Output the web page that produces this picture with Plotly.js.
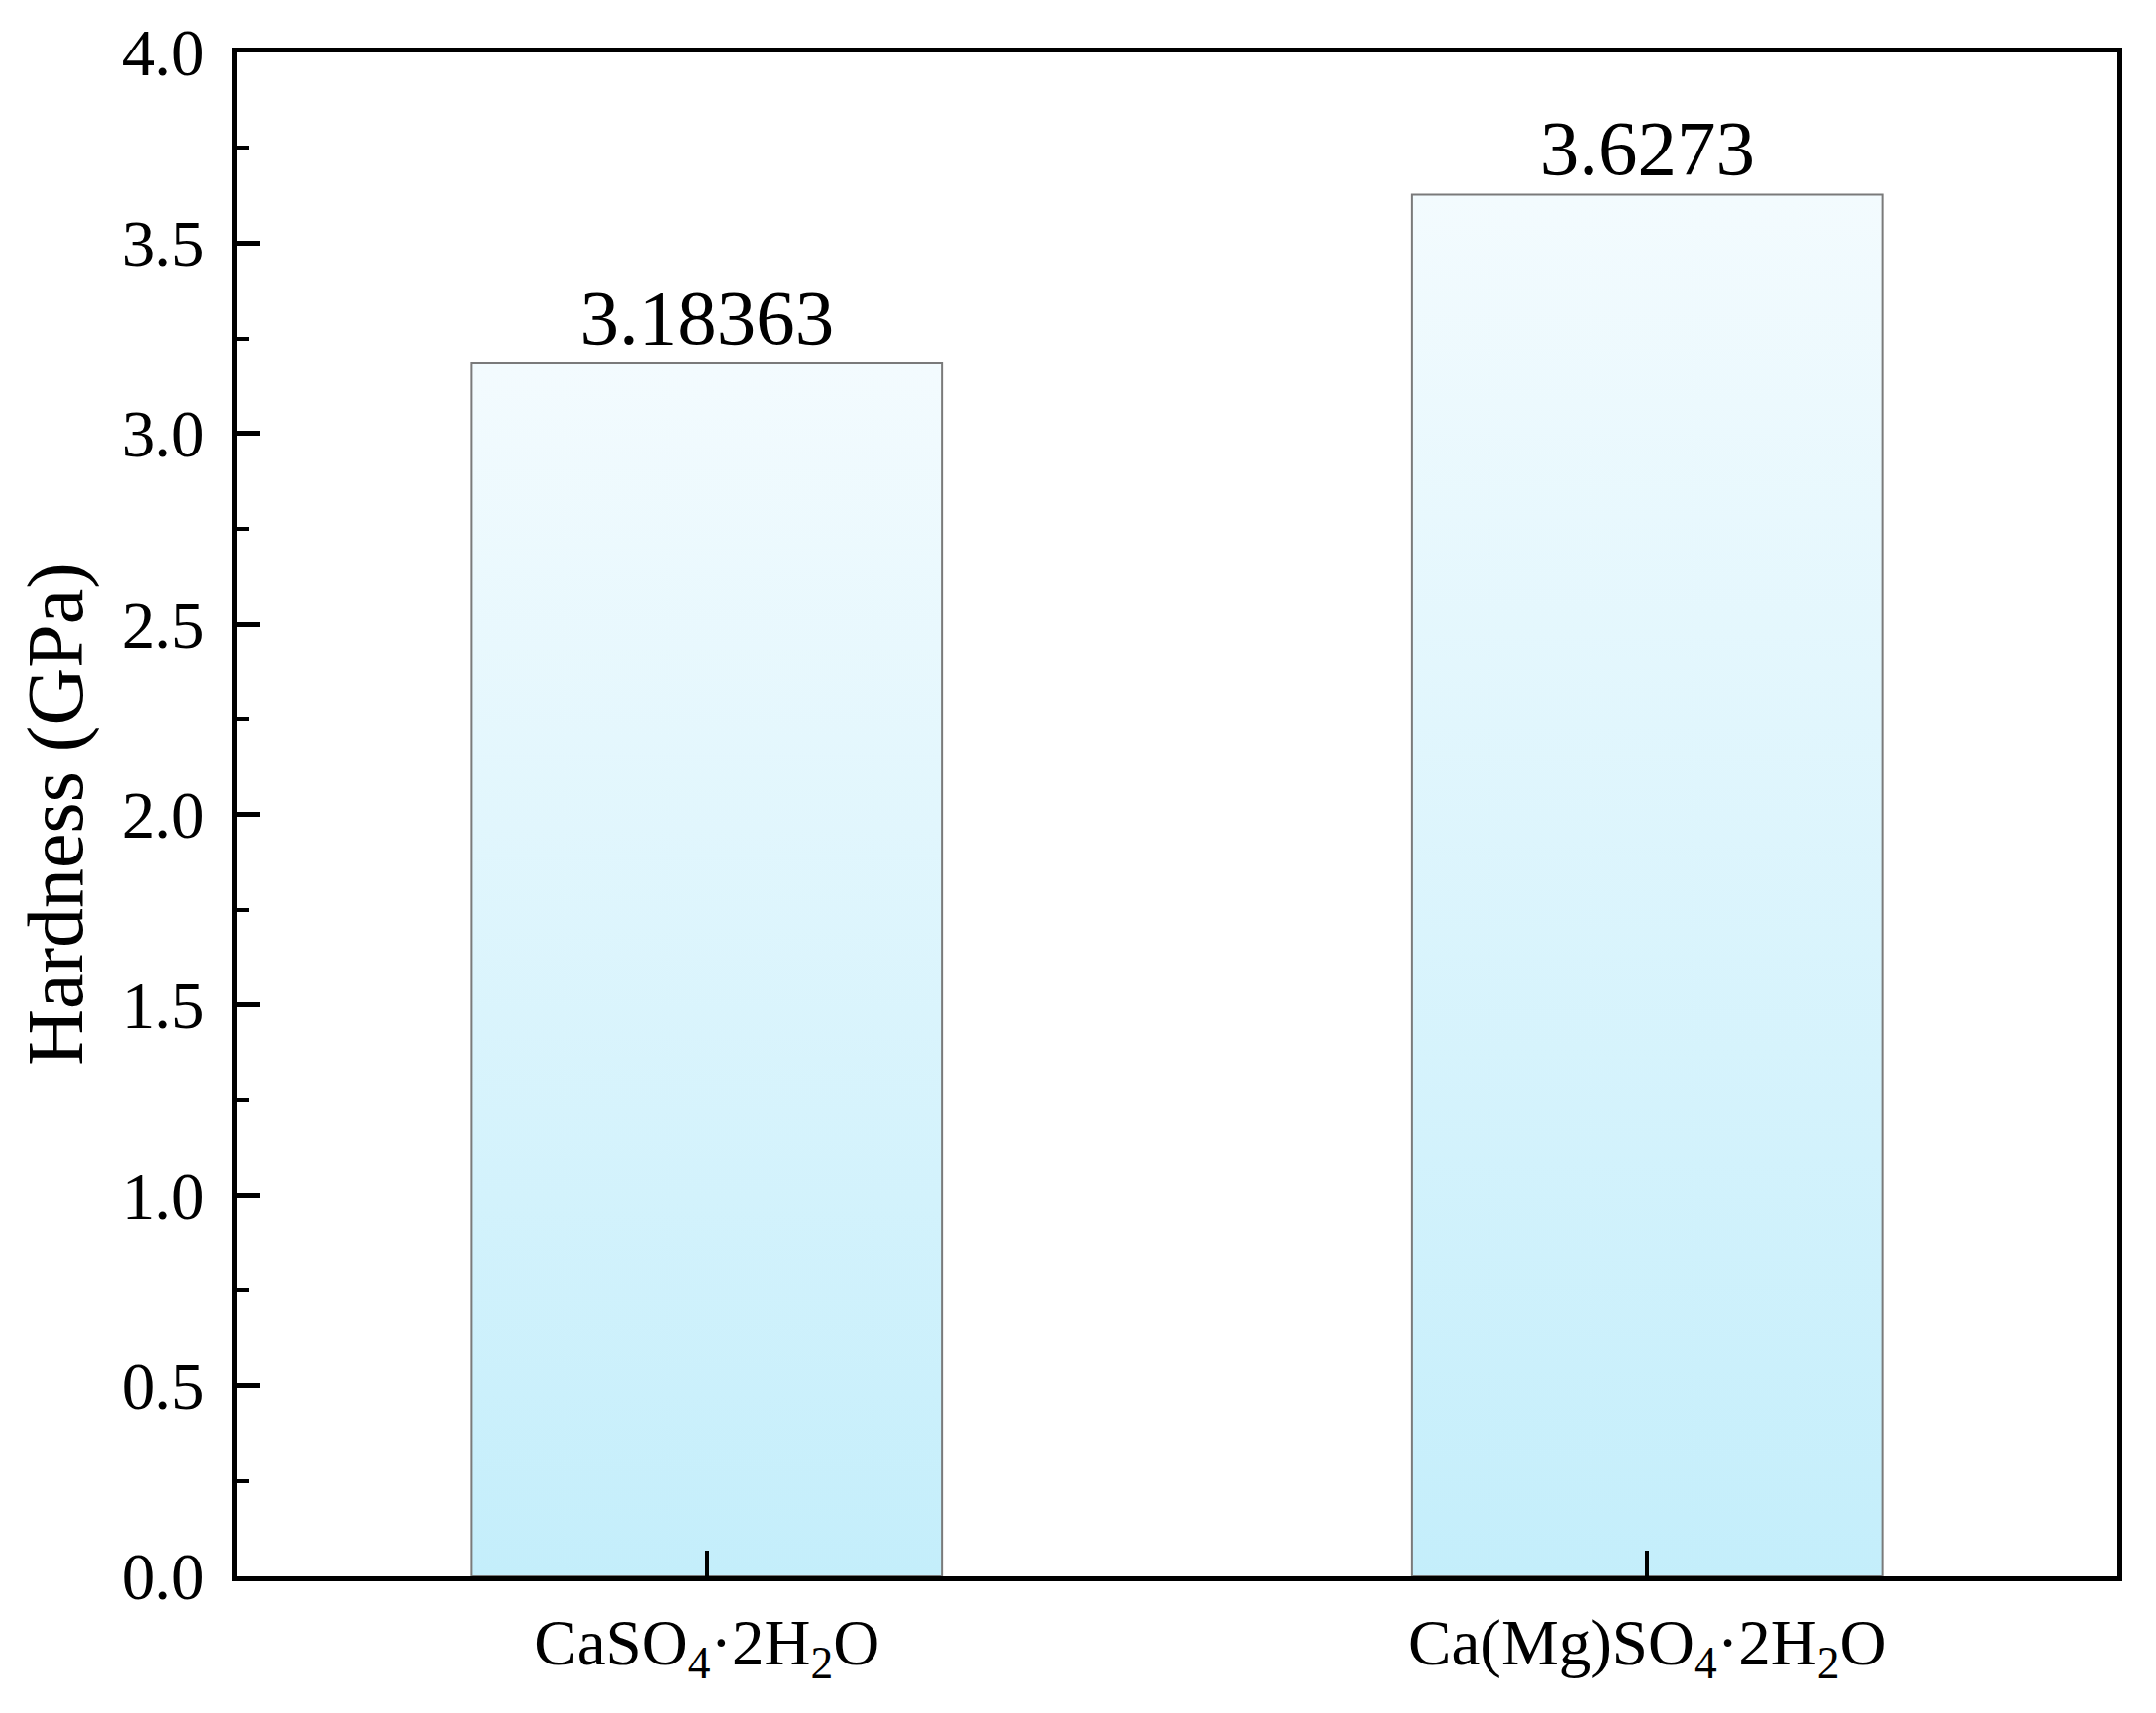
<!DOCTYPE html>
<html>
<head>
<meta charset="utf-8">
<script src="https://cdn.plot.ly/plotly-3.0.1.min.js"></script>
<style>
  html, body { margin: 0; padding: 0; background: #fff; }
  #wykres { width: 2177px; height: 1730px; }
</style>
</head>
<body>
<div id="wykres"></div>
<script>
// dane
const probki = ['CaSO<sub>4</sub>·2H<sub>2</sub>O', 'Ca(Mg)SO<sub>4</sub>·2H<sub>2</sub>O'];
const twardosc = [3.18363, 3.6273];          // [GPa]
const etykietyWartosci = ['3.18363', '3.6273'];
const yTicki = [0, 0.5, 1.0, 1.5, 2.0, 2.5, 3.0, 3.5, 4.0];
const yTickiTekst = ['0.0', '0.5', '1.0', '1.5', '2.0', '2.5', '3.0', '3.5', '4.0'];

const CZCIONKA = '"Liberation Serif", "Times New Roman", serif';

const slady = [{
  type: 'bar',
  x: [0, 1],
  y: twardosc,
  width: 0.5,
  text: etykietyWartosci,
  textposition: 'outside',
  constraintext: 'none',
  cliponaxis: false,
  outsidetextfont: { family: CZCIONKA, size: 79, color: '#000' },
  marker: { color: '#dcf4fc', line: { color: '#7a7a7a', width: 2 } },
  hoverinfo: 'skip',
}];

const uklad = {
  width: 2177, height: 1730,
  margin: { l: 239, r: 39, t: 53, b: 138 },
  paper_bgcolor: '#fff', plot_bgcolor: '#fff',
  showlegend: false,
  font: { family: CZCIONKA, color: '#000' },
  xaxis: {
    range: [-0.5, 1.5],
    tickvals: [0, 1], ticktext: probki,
    ticks: 'inside', ticklen: 26, tickwidth: 4, tickcolor: '#000',
    showline: true, linewidth: 5, linecolor: '#000', mirror: true,
    showgrid: false, zeroline: false,
    tickfont: { family: CZCIONKA, size: 65, color: '#000' },
    ticklabelstandoff: 6,
  },
  yaxis: {
    range: [0, 4.0],
    tickvals: yTicki, ticktext: yTickiTekst,
    ticks: 'inside', ticklen: 24, tickwidth: 5, tickcolor: '#000',
    minor: { dtick: 0.25, ticks: 'inside', ticklen: 12, tickwidth: 4, tickcolor: '#000', showgrid: false },
    showline: true, linewidth: 5, linecolor: '#000', mirror: true,
    showgrid: false, zeroline: false,
    tickfont: { family: CZCIONKA, size: 67, color: '#000' },
    ticklabelstandoff: 14,
    title: { text: 'Hardness (GPa)', font: { family: CZCIONKA, size: 80, color: '#000' }, standoff: 14 },
  },
};

Plotly.newPlot('wykres', slady, uklad, { staticPlot: true }).then(gd => {
  // gradient słupków: jasnoniebieski u dołu, prawie biały u góry
  const NS = 'http://www.w3.org/2000/svg';
  const svg = gd.querySelector('.main-svg');
  let defs = svg.querySelector('defs');
  if (!defs) { defs = document.createElementNS(NS, 'defs'); svg.prepend(defs); }
  const grad = document.createElementNS(NS, 'linearGradient');
  grad.setAttribute('id', 'gradientSlupka');
  grad.setAttribute('x1', '0'); grad.setAttribute('y1', '1');
  grad.setAttribute('x2', '0'); grad.setAttribute('y2', '0');
  [['0', '#c4eefb'], ['1', '#f3fbfe']].forEach(([off, kolor]) => {
    const s = document.createElementNS(NS, 'stop');
    s.setAttribute('offset', off);
    s.setAttribute('stop-color', kolor);
    grad.appendChild(s);
  });
  defs.appendChild(grad);
  gd.querySelectorAll('.bars .point path').forEach(p => { p.style.fill = 'url(#gradientSlupka)'; });
});
</script>
</body>
</html>
